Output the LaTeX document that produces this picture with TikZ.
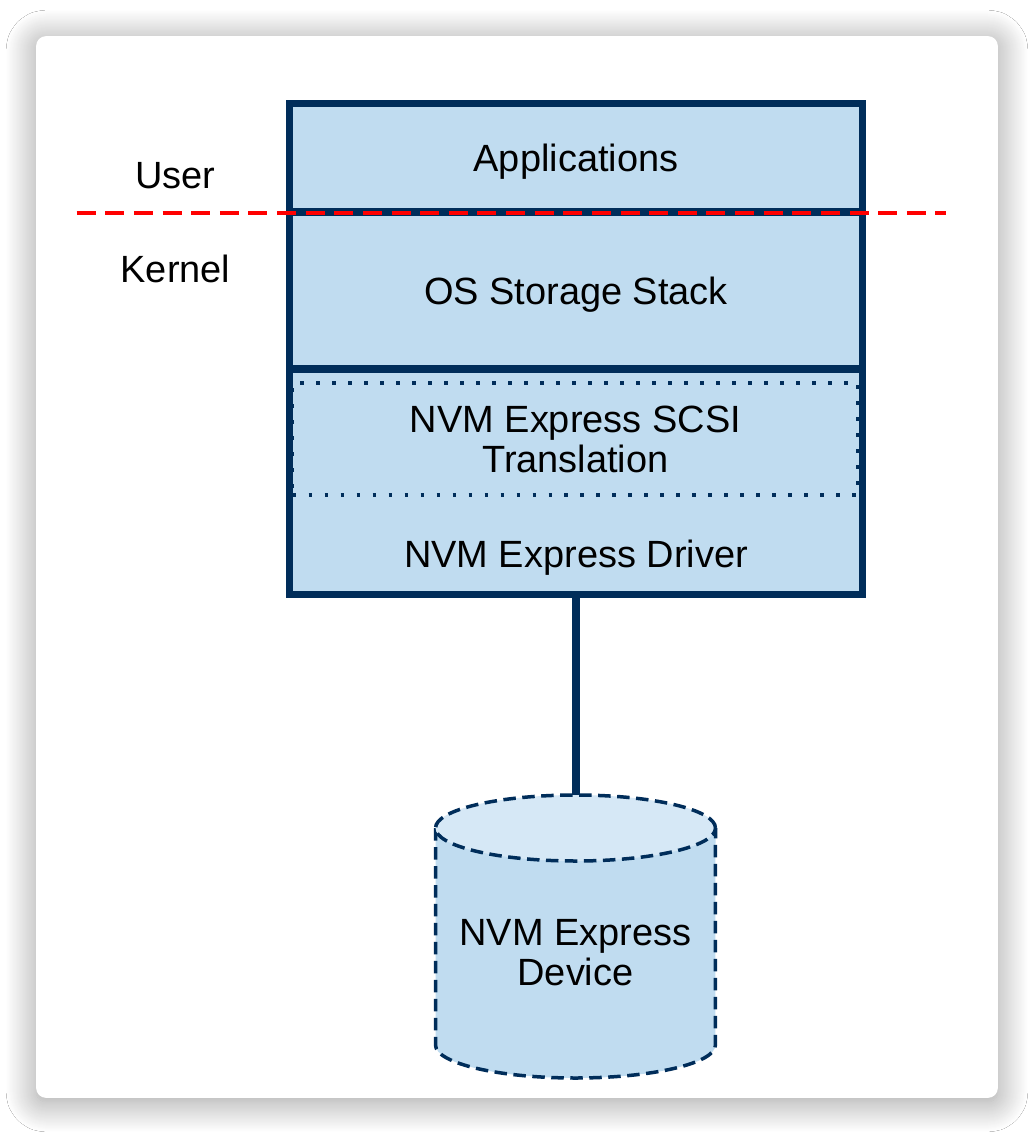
\documentclass[tikz,border=0pt]{standalone}
\usepackage{fontspec}
\setmainfont{Liberation Sans}
\usetikzlibrary{shadows.blur}
\definecolor{navy}{HTML}{002D5A}
\definecolor{layerblue}{HTML}{C0DCF0}
\definecolor{lidblue}{HTML}{D6E8F6}
\begin{document}
\begin{tikzpicture}[x=0.02cm,y=-0.02cm]
\tikzstyle{every node}=[font=\fontsize{21.6}{22.7}\selectfont]
\tikzstyle{card}=[fill=white, rounded corners=0.2cm, minimum width=19.24cm, minimum height=21.24cm,
  blur shadow={shadow xshift=0cm, shadow yshift=-0.08cm, shadow blur radius=0.6cm, shadow blur steps=30, shadow opacity=40}]
\tikzstyle{layer}=[draw=navy, fill=layerblue, line width=0.14cm, minimum width=11.46cm, inner sep=0pt]
\tikzstyle{caps}=[text height=15.5pt, text depth=0pt]
\tikzstyle{dotbox}=[draw=navy, line width=0.075cm, dash pattern=on 0.075cm off 0.245cm,
  minimum width=11.316cm, minimum height=2.234cm, align=center, inner sep=0pt]
\tikzstyle{devedge}=[draw=navy, line width=0.07cm, dash pattern=on 0.25cm off 0.13cm]
\tikzstyle{boundary}=[red, line width=0.09cm, dash pattern=on 0.38cm off 0.1926cm]
\tikzstyle{link}=[navy, line width=0.16cm]
\useasboundingbox (0,0) rectangle (1034,1134);
\fill[white] (0,0) rectangle (1034,1134);
\node[card] (card) at (517,567) {};
\node[caps] (user) at (175.5,175) {User};
\node[caps] (kernel) at (175.5,269.2) {Kernel};
\node[layer, caps, minimum height=2.18cm] (apps) at (576,157.5) {Applications};
\node[layer, caps, minimum height=3.14cm] (osstack) at (576,290.5) {OS Storage Stack};
\node[layer, minimum height=4.51cm] (driverblock) at (576,481.75) {};
\node[dotbox] (scsi) at (575.4,439.2) {NVM Express SCSI\\Translation};
\node[caps] (driver) at (576,554) {NVM Express Driver};
\coordinate (devtop) at (576,795);
\fill[layerblue] (435.5,828) -- (435.5,1045) arc[start angle=180, end angle=360, x radius=2.8cm, y radius=0.66cm]
  -- (715.5,828) -- cycle;
\draw[devedge] (435.5,828) -- (435.5,1045) arc[start angle=180, end angle=360, x radius=2.8cm, y radius=0.66cm]
  -- (715.5,828);
\draw[devedge, fill=lidblue] (575.5,828) ellipse [x radius=2.8cm, y radius=0.66cm];
\node[align=center] (device) at (575.5,953) {NVM Express\\Device};
\draw[link] (driverblock.south) -- (devtop);
\coordinate (userL) at (76.7,213);
\coordinate (userR) at (946,213);
\draw[boundary] (userL) -- (userR);
\end{tikzpicture}
\end{document}
